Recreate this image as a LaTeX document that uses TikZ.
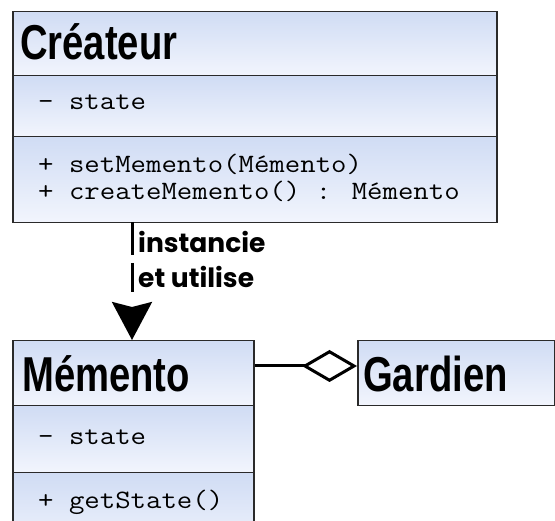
\documentclass[tikz,border=0pt]{standalone}
\usepackage{fontspec}
\usetikzlibrary{arrows.meta}
\newfontfamily\titlefont[FakeStretch=0.78]{Liberation Sans}
\newfontfamily\lblfont{Poppins}
\newfontfamily\monofont[FakeStretch=1.13]{Latin Modern Mono}
\definecolor{umltop}{HTML}{D0DCF4}
\definecolor{umlbot}{HTML}{F2F5FD}
\definecolor{umlline}{HTML}{2A2A2A}
\tikzset{
  sect/.style={draw=umlline, line width=1.5pt, rectangle, anchor=north west,
    inner sep=0pt, top color=umltop, bottom color=umlbot},
  ttl/.style={anchor=base west, inner sep=0pt, font=\titlefont\bfseries\fontsize{49}{50}\selectfont},
  mono/.style={anchor=base west, inner sep=0pt, align=left, font=\monofont\fontsize{26.5}{27}\selectfont},
  lbl/.style={anchor=base west, inner sep=0pt, font=\lblfont\bfseries\fontsize{26.5}{28}\selectfont},
  conn/.style={line width=3pt, black},
}
\begin{document}
\begin{tikzpicture}[x=1pt,y=1pt]
\clip (0,0) rectangle (555,-521);
\fill[white] (0,0) rectangle (555,-521);
% Createur
\node[sect, minimum width=484pt, minimum height=64pt] (c1) at (12,-11) {};
\node[sect, minimum width=484pt, minimum height=61pt] (c2) at (12,-75) {};
\node[sect, minimum width=484pt, minimum height=86pt] (c3) at (12,-136) {};
\node[ttl] (ct) at (20,-60) {Créateur};
\node[mono] (ca) at (38,-110) {- state};
\node[mono] (cm) at (38,-200) {+ setMemento(Mémento)\\+ createMemento() : Mémento};
% Memento
\node[sect, minimum width=241pt, minimum height=65pt] (m1) at (12,-340) {};
\node[sect, minimum width=241pt, minimum height=67pt] (m2) at (12,-405) {};
\node[sect, minimum width=241pt, minimum height=80pt] (m3) at (12,-472) {};
\node[ttl] (mt) at (22,-392) {Mémento};
\node[mono] (ma) at (38,-445) {- state};
\node[mono] (mm) at (38,-509) {+ getState()};
% Gardien
\node[sect, minimum width=197pt, minimum height=65pt] (g1) at (357,-340) {};
\node[ttl] (gt) at (363,-392) {Gardien};
% connectors
\coordinate (cs) at (132,-222);
\coordinate (mn) at (132,-340);
\draw[conn, dash pattern=on 33pt off 8pt on 29pt off 200pt,
  -{Stealth[length=38pt, width=40pt, inset=5pt]}] (cs) -- (mn);
\node[lbl] (l1) at (138,-253) {instancie};
\node[lbl] (l2) at (138,-288) {et utilise};
\draw[conn, -{Diamond[open, length=55pt, width=32pt, line width=3pt]}] (m1.east |- 0,-366) -- (g1.west |- 0,-366);
\end{tikzpicture}
\end{document}
